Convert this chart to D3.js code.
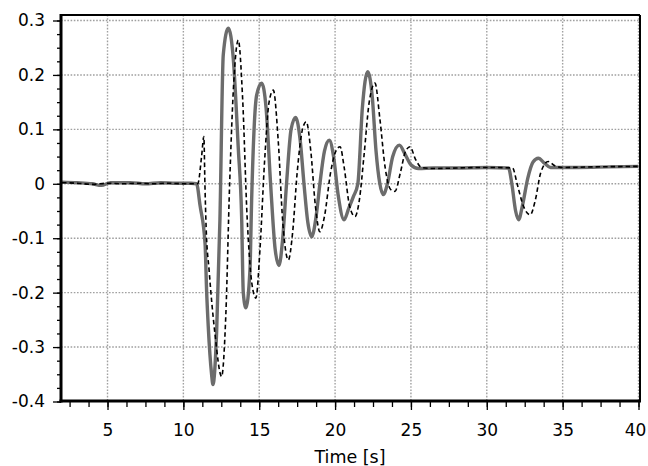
<!DOCTYPE html>
<html>
<head>
<meta charset="utf-8">
<script src="https://cdn.jsdelivr.net/npm/d3@7"></script>
<style>
  body { margin: 0; background: #fff; }
  svg text { font-family: "DejaVu Sans", Verdana, sans-serif; fill: #000; }
</style>
</head>
<body>
<svg id="plot" width="648" height="466"></svg>
<script>
// x ticks and y ticks as printed on the chart
var xTicks = [5, 10, 15, 20, 25, 30, 35, 40];
var yTicks = [-0.4, -0.3, -0.2, -0.1, 0, 0.1, 0.2, 0.3];
var yTickLabels = ['-0.4', '-0.3', '-0.2', '-0.1', '0', '0.1', '0.2', '0.3'];

// gray solid trace
var solidT = [2, 3, 4, 4.6, 5.2, 6.5, 7.5, 8.5, 9.5, 10.5, 10.87, 11.1, 11.43, 11.53, 11.64, 11.86, 11.95,
  12.19, 12.41, 12.63, 12.96, 13.29, 13.62, 13.84, 13.95, 14.12, 14.39, 14.5, 14.83, 15.16,
  15.45, 15.75, 16.05, 16.3, 16.55, 16.8, 17.1, 17.4, 17.7, 17.95, 18.2, 18.46, 18.75, 19.0,
  19.3, 19.62, 19.9, 20.2, 20.59, 20.9, 21.2, 21.5, 21.8, 22.15, 22.45, 22.7, 22.95, 23.18,
  23.45, 23.8, 24.24, 24.6, 25.0, 25.5, 26.5, 28, 30, 31.43, 31.65, 31.9, 32.1, 32.35, 32.7,
  33.05, 33.4, 33.8, 34.2, 36, 38, 40];
var solidV = [0.003, 0.002, 0.0, -0.003, 0.002, 0.002, 0.0, 0.002, 0.001, 0.001, 0.0, -0.04, -0.11, -0.195, -0.262, -0.35, -0.369,
  -0.274, -0.066, 0.237, 0.286, 0.23, 0.065, -0.06, -0.2, -0.228, -0.158, -0.03, 0.163, 0.185,
  0.14, 0.0, -0.12, -0.15, -0.1, 0.0, 0.1, 0.122, 0.08, 0.0, -0.07, -0.097, -0.06, 0.0,
  0.06, 0.08, 0.05, -0.02, -0.066, -0.045, -0.024, 0.0, 0.14, 0.206, 0.16, 0.06, 0.0, -0.02,
  0.0, 0.05, 0.071, 0.055, 0.035, 0.028, 0.029, 0.029, 0.03, 0.029, 0.0, -0.05, -0.066, -0.04, 0.01,
  0.04, 0.047, 0.038, 0.03, 0.03, 0.031, 0.032];

// black dashed trace
var dashT = [2, 3, 4, 5, 6, 7, 8, 9, 10, 10.95, 11.2, 11.35, 11.42, 11.5, 11.7, 12.08, 12.52,
  12.8, 13.05, 13.35, 13.62, 13.9, 14.2, 14.5, 14.78, 15.05, 15.35, 15.65, 15.93, 16.25, 16.55,
  16.92, 17.2, 17.5, 17.85, 18.1, 18.4, 18.7, 19.0, 19.3, 19.7, 20.05, 20.33, 20.6, 20.95,
  21.31, 21.6, 21.9, 22.25, 22.63, 22.95, 23.3, 23.65, 23.95, 24.3, 24.65, 24.94, 25.3, 25.7,
  26.5, 28, 30, 31.7, 32.0, 32.4, 32.86, 33.2, 33.55, 34.05, 34.5, 35, 37, 40];
var dashV = [0.002, 0.001, -0.001, 0.001, 0.0, 0.001, 0.0, 0.001, 0.0, 0.0, 0.05, 0.087, 0.0, -0.08, -0.16, -0.275, -0.354,
  -0.24, 0.0, 0.2, 0.264, 0.16, -0.06, -0.18, -0.21, -0.12, 0.04, 0.15, 0.172, 0.08, -0.07,
  -0.14, -0.09, 0.02, 0.1, 0.114, 0.06, -0.04, -0.088, -0.06, 0.02, 0.06, 0.068, 0.03, -0.04,
  -0.06, -0.03, 0.05, 0.15, 0.185, 0.12, 0.03, -0.01, -0.014, 0.02, 0.06, 0.068, 0.045, 0.03,
  0.028, 0.029, 0.03, 0.029, 0.0, -0.04, -0.057, -0.03, 0.02, 0.041, 0.033, 0.03, 0.031, 0.032];

function whenDocumentLoaded(action) {
  if (document.readyState === "loading") {
    document.addEventListener("DOMContentLoaded", action);
  } else {
    action();
  }
}

function drawChart() {
  var svg = d3.select("#plot");
  var left = 61, right = 640, top = 15, bottom = 401;

  var xscale = d3.scaleLinear().domain([2, 40]).range([62, 638.5]);
  var yscale = d3.scaleLinear().domain([-0.4, 0.3]).range([401.5, 20.5]);

  var xMinor = d3.range(2.5, 40.01, 1.25);
  var yMinor = d3.range(-0.4, 0.3001, 0.025);

  // grid
  var grid = svg.append("g").attr("stroke", "#a0a0a0").attr("stroke-width", 1.4)
    .attr("stroke-dasharray", "1.6,1.6");
  grid.selectAll(".gx").data(xTicks).enter().append("line")
    .attr("x1", d => xscale(d)).attr("x2", d => xscale(d))
    .attr("y1", top).attr("y2", bottom);
  grid.selectAll(".gy").data(yTicks.filter(d => d > -0.4)).enter().append("line")
    .attr("x1", left).attr("x2", right)
    .attr("y1", d => yscale(d)).attr("y2", d => yscale(d));

  // traces
  var pts = (T, V) => T.map((t, i) => ({ t: t, v: V[i] }));
  var line = d3.line().x(d => xscale(d.t)).y(d => yscale(d.v)).curve(d3.curveMonotoneX);

  svg.append("path").attr("d", line(pts(solidT, solidV)))
    .attr("fill", "none").attr("stroke", "#6c6c6c").attr("stroke-width", 3.4)
    .attr("stroke-linejoin", "round");
  svg.append("path").attr("d", line(pts(dashT, dashV)))
    .attr("fill", "none").attr("stroke", "#000").attr("stroke-width", 1.6)
    .attr("stroke-dasharray", "4.5,3");

  // frame
  svg.append("line").attr("x1", left).attr("x2", right).attr("y1", top).attr("y2", top)
    .attr("stroke", "#000").attr("stroke-width", 2);
  svg.append("line").attr("x1", right).attr("x2", right).attr("y1", top).attr("y2", bottom)
    .attr("stroke", "#000").attr("stroke-width", 2);

  // minor ticks
  svg.append("g").attr("transform", "translate(0," + bottom + ")")
    .call(d3.axisBottom(xscale).tickValues(xMinor).tickSize(6).tickFormat(""))
    .call(g => g.select(".domain").remove())
    .selectAll("line").attr("stroke", "#000").attr("stroke-width", 1.3);
  svg.append("g").attr("transform", "translate(" + left + ",0)")
    .call(d3.axisLeft(yscale).tickValues(yMinor).tickSize(4).tickFormat(""))
    .call(g => g.select(".domain").remove())
    .selectAll("line").attr("stroke", "#000").attr("stroke-width", 1.3);

  // major axes
  var xAxis = svg.append("g").attr("transform", "translate(0," + bottom + ")")
    .call(d3.axisBottom(xscale).tickValues(xTicks).tickSize(9).tickPadding(14).tickSizeOuter(0));
  xAxis.select(".domain").remove();
  xAxis.selectAll("line").attr("stroke", "#000").attr("stroke-width", 1.3);
  xAxis.selectAll("text").attr("font-size", 17).attr("fill", "#000");
  // last label pulled in so it stays on the page, as in the original
  xAxis.selectAll("text").filter(d => d === 40).attr("dx", -3.5);

  var yAxis = svg.append("g").attr("transform", "translate(" + left + ",0)")
    .call(d3.axisLeft(yscale).tickValues(yTicks).tickSize(8).tickPadding(8)
      .tickFormat((d, i) => yTickLabels[i]));
  yAxis.select(".domain").remove();
  yAxis.selectAll("line").attr("stroke", "#000").attr("stroke-width", 1.3);
  yAxis.selectAll("text").attr("font-size", 17).attr("fill", "#000");

  svg.append("line").attr("x1", left).attr("x2", left).attr("y1", top - 1).attr("y2", bottom + 1.5)
    .attr("stroke", "#000").attr("stroke-width", 3);
  svg.append("line").attr("x1", left - 1.5).attr("x2", right + 1).attr("y1", bottom).attr("y2", bottom)
    .attr("stroke", "#000").attr("stroke-width", 3);

  svg.append("text").attr("x", 350).attr("y", 463).attr("text-anchor", "middle")
    .attr("font-size", 17.5).text("Time [s]");
}

whenDocumentLoaded(drawChart);
</script>
</body>
</html>
